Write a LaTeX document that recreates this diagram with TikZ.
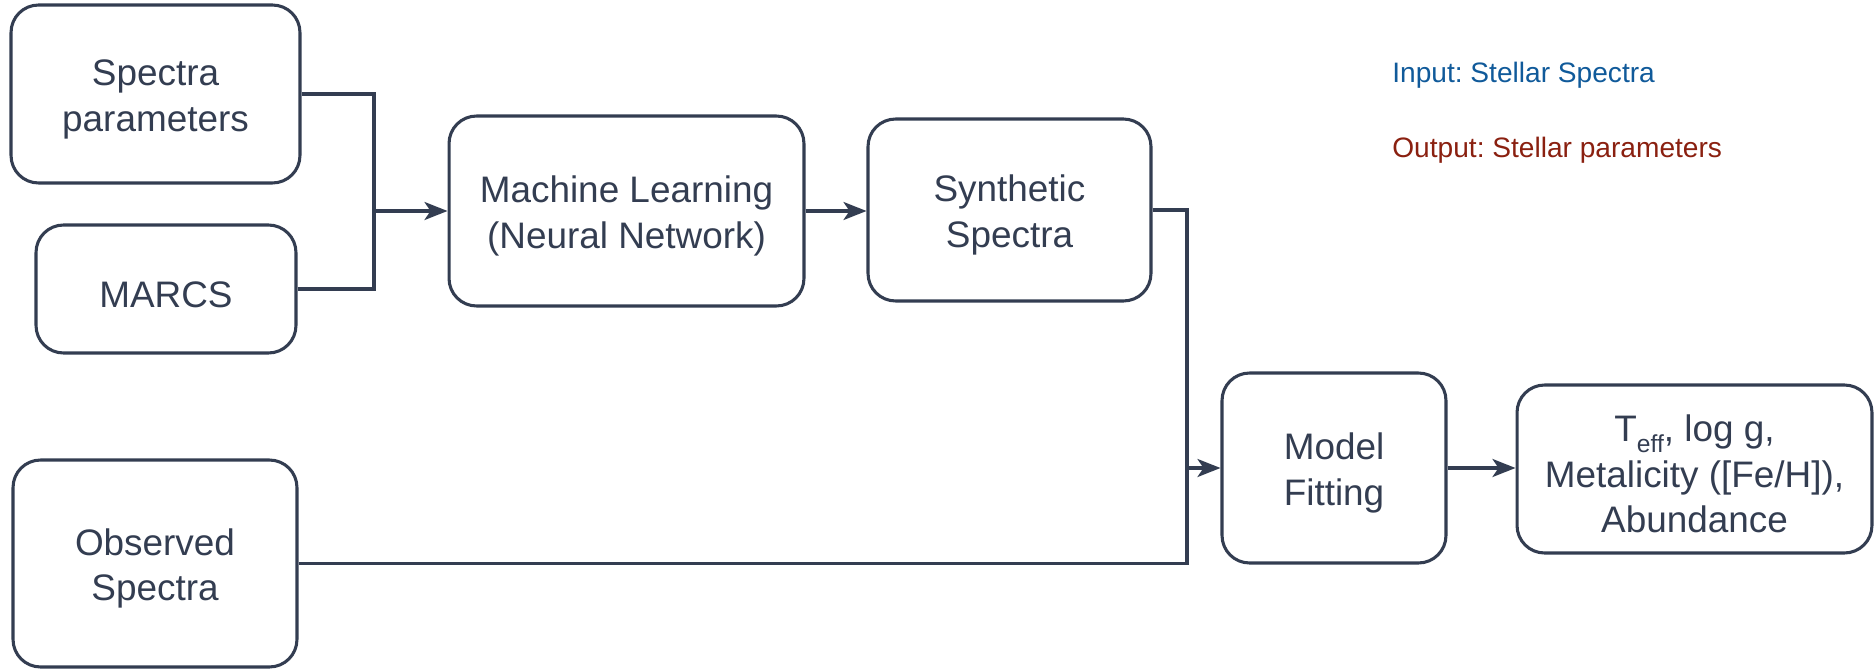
\documentclass[tikz,border=0pt]{standalone}
\usepackage{fontspec}
\setmainfont{Liberation Sans}
\usetikzlibrary{arrows.meta}
\definecolor{ink}{HTML}{333D51}
\definecolor{inblue}{HTML}{105A9A}
\definecolor{outred}{HTML}{8A2010}
\frenchspacing
\newcommand{\fst}{\rule{0pt}{21pt}}
\tikzset{
  box/.style={draw=ink, line width=1.75pt, rounded corners=0.55cm, align=center,
    text=ink, font=\fontsize{21}{26}\selectfont, inner sep=0pt},
  conn/.style={draw=ink, line width=1.75pt},
  arr/.style={conn, -{Stealth[length=0.46cm, width=0.36cm, inset=0.12cm]}},
  legend/.style={anchor=base west, font=\fontsize{16}{19}\selectfont, inner sep=0pt}
}
\begin{document}
\begin{tikzpicture}[x=0.02cm, y=-0.02cm]
\useasboundingbox (0,0) rectangle (1874,669);
\node[box, minimum width=5.78cm, minimum height=3.56cm] (sp) at (155.5,94) {\fst Spectra\\parameters};
\node[box, minimum width=5.2cm, minimum height=2.56cm] (marcs) at (166,289) {\fst MARCS};
\node[box, minimum width=5.68cm, minimum height=4.14cm] (obs) at (155,563.5) {\fst Observed\\Spectra};
\node[box, minimum width=7.1cm, minimum height=3.8cm] (ml) at (626.5,211) {\fst Machine Learning\\(Neural Network)};
\node[box, minimum width=5.66cm, minimum height=3.64cm] (syn) at (1009.5,210) {\fst Synthetic\\Spectra};
\node[box, minimum width=4.48cm, minimum height=3.8cm] (mf) at (1334,468) {\fst Model\\Fitting};
\node[box, minimum width=7.1cm, minimum height=3.36cm] (out) at (1694.5,469) {\fst T\raisebox{-0.3em}{\fontsize{14}{14}\selectfont eff}, log g,\\Metalicity ([Fe/H]),\\Abundance};
\node[legend, text=inblue] (lin) at (1392,83) {Input: Stellar Spectra};
\node[legend, text=outred] (lout) at (1392,157) {Output: Stellar parameters};
\coordinate (j1) at (374,211);
\coordinate (j2) at (1187,468);
\draw[conn] (sp.east) -| (j1);
\draw[conn] (marcs.east) -| (j1);
\draw[arr] (j1) -- (ml.west);
\draw[arr] (ml.east) -- (ml.east -| syn.west);
\draw[conn] (syn.east) -| (j2);
\draw[conn] (obs.east) -| (j2);
\draw[arr] (j2) -- (mf.west);
\draw[arr] (mf.east) -- (mf.east -| out.west);
\end{tikzpicture}
\end{document}
